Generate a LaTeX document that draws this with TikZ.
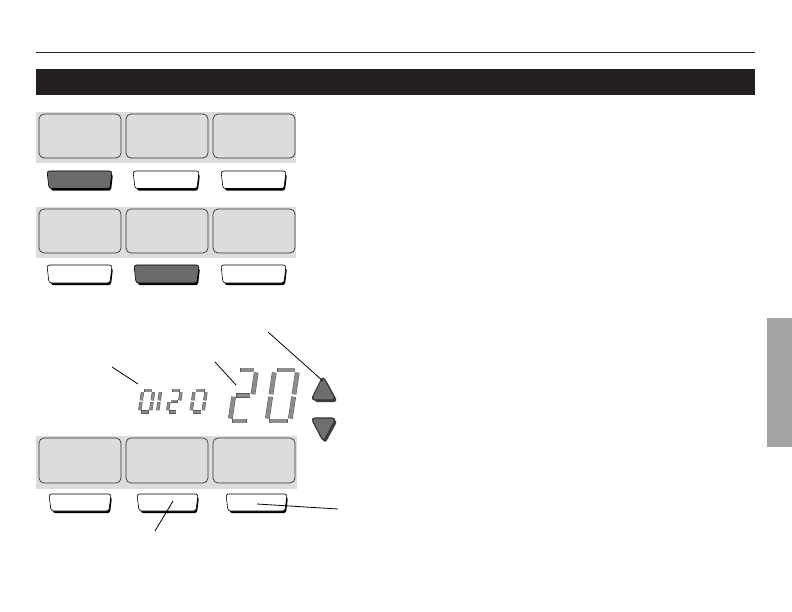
\documentclass[tikz,border=0pt]{standalone}
\usetikzlibrary{calc}
\definecolor{panelgray}{HTML}{DCDCDC}
\definecolor{bardark}{HTML}{231F20}
\definecolor{btndark}{HTML}{6A6A6A}
\definecolor{tabgray}{HTML}{A5A4A5}
\definecolor{segfill}{HTML}{8C8C8C}
\definecolor{segline}{HTML}{5A5A5A}
\definecolor{arrowfill}{HTML}{6E6E6E}
\tikzset{
  panelbg/.style={fill=panelgray, draw=none},
  panelbox/.style={fill=panelgray, draw=black!80, line width=0.7pt, rounded corners=5pt},
  leader/.style={draw=black, line width=0.8pt},
  keyshadow/.style={fill=black, rounded corners=2.5pt},
  keyface/.style={draw=black, line width=0.6pt, rounded corners=2.5pt},
  arrowshadow/.style={fill=black!75, rounded corners=4pt},
  arrowface/.style={fill=arrowfill, draw=black!80, line width=1.1pt, rounded corners=4pt},
}
% soft key: x0 y0 x1 height fill
\newcommand\softkey[5]{%
  \fill[keyshadow] (#1+2,#2+3) -- (#3+1,#2+3) -- (#3-1,#2+#4+2.2) -- (#1+4,#2+#4+2.2) -- cycle;
  \draw[keyface, fill=#5] (#1,#2) -- (#3,#2) -- (#3-2,#2+#4) -- (#1+2,#2+#4) -- cycle;
}
\newcommand\lcdbar[2]{%
  \draw[segline, line width=\dt pt+0.9pt] (#1) -- (#2);
  \draw[segfill, line width=\dt pt, shorten >=0.45pt, shorten <=0.45pt] (#1) -- (#2);
}
\newcommand\lcdsega{\lcdbar{\g,-\dh}{\dw-\g,-\dh}}
\newcommand\lcdsegb{\lcdbar{\dw,-\dh+\g}{\dw,-\dh/2-\g/2}}
\newcommand\lcdsegc{\lcdbar{\dw,-\dh/2+\g/2}{\dw,-\g}}
\newcommand\lcdsegd{\lcdbar{\g,0}{\dw-\g,0}}
\newcommand\lcdsege{\lcdbar{0,-\g}{0,-\dh/2+\g/2}}
\newcommand\lcdsegf{\lcdbar{0,-\dh/2-\g/2}{0,-\dh+\g}}
\newcommand\lcdsegg{\lcdbar{\g,-\dh/2}{\dw-\g,-\dh/2}}
% digit: x y (bottom-left) w h thickness segments
\newcommand\lcddigit[6]{%
  \begin{scope}[shift={(#1,#2)}, xslant=0.15]
    \def\dw{#3}\def\dh{#4}\def\dt{#5}\pgfmathsetmacro\g{#5*0.55+0.4}
    \foreach \s in {#6} {\csname lcdseg\s\endcsname}
  \end{scope}%
}
\begin{document}
\begin{tikzpicture}[x=1pt,y=-1pt]
\useasboundingbox (0,0) rectangle (792,612);
\fill[white] (0,0) rectangle (792,612);
% header rule and bar
\draw[line width=1pt, bardark] (36,53) -- (755,53);
\fill[bardark] (36,69) rectangle (755,95);
% side tab
\fill[tabgray] (767,318) rectangle (792,447);
% panel 1
\fill[panelbg] (36,112) rectangle (296,163);
\draw[panelbox] (39,114) rectangle (121,158);
\draw[panelbox] (126,114) rectangle (208,158);
\draw[panelbox] (213,114) rectangle (295,158);
\softkey{47}{171}{112}{17.5}{btndark}
\softkey{133}{171}{199}{17.5}{white}
\softkey{221}{171}{286}{17.5}{white}
% panel 2
\fill[panelbg] (36,207) rectangle (296,258);
\draw[panelbox] (39,209) rectangle (121,253);
\draw[panelbox] (126,209) rectangle (208,253);
\draw[panelbox] (213,209) rectangle (295,253);
\softkey{47}{265}{112}{18}{white}
\softkey{134}{265}{199}{18}{btndark}
\softkey{221}{265}{286}{18}{white}
% display digits
\lcddigit{139.5}{412}{11}{21.5}{2.4}{a,b,c,d,e,f}
\lcddigit{146.5}{412}{11}{21.5}{2.4}{b,c}
\lcddigit{167.5}{412}{10.5}{21.5}{2.4}{a,b,g,e,d}
\lcddigit{191}{412}{12}{21.5}{2.4}{a,b,c,d,e,f}
\lcddigit{230}{421}{19}{51}{3.8}{a,b,g,e,d}
\lcddigit{267}{421}{23}{51}{3.8}{a,b,c,d,e,f}
% up/down arrows
\fill[arrowshadow] (324.5,378) -- (338,402) -- (313,402) -- cycle;
\draw[arrowface] (323,376) -- (336,400) -- (311,400) -- cycle;
\fill[arrowshadow] (312.5,420) -- (338,420) -- (325,444) -- cycle;
\draw[arrowface] (311,418) -- (336,418) -- (323.5,442) -- cycle;
% panel 3
\fill[panelbg] (36,436) rectangle (297,489);
\draw[panelbox] (39,438) rectangle (121,483);
\draw[panelbox] (126,438) rectangle (208,483);
\draw[panelbox] (213,438) rectangle (295,483);
\softkey{49}{494}{111}{17}{white}
\softkey{137}{494}{198}{17}{white}
\softkey{226}{494}{287}{17}{white}
% leader lines
\coordinate (l1a) at (112,367); \coordinate (l1b) at (138,384);
\coordinate (l2a) at (215,362); \coordinate (l2b) at (236,385);
\coordinate (l3a) at (268,332); \coordinate (l3b) at (323,381);
\coordinate (l4a) at (173,501); \coordinate (l4b) at (155,531);
\coordinate (l5a) at (257,504); \coordinate (l5b) at (338,509);
\draw[leader] (l1a) -- (l1b);
\draw[leader] (l2a) -- (l2b);
\draw[leader] (l3a) -- (l3b);
\draw[leader] (l4a) -- (l4b);
\draw[leader] (l5a) -- (l5b);
\end{tikzpicture}
\end{document}
